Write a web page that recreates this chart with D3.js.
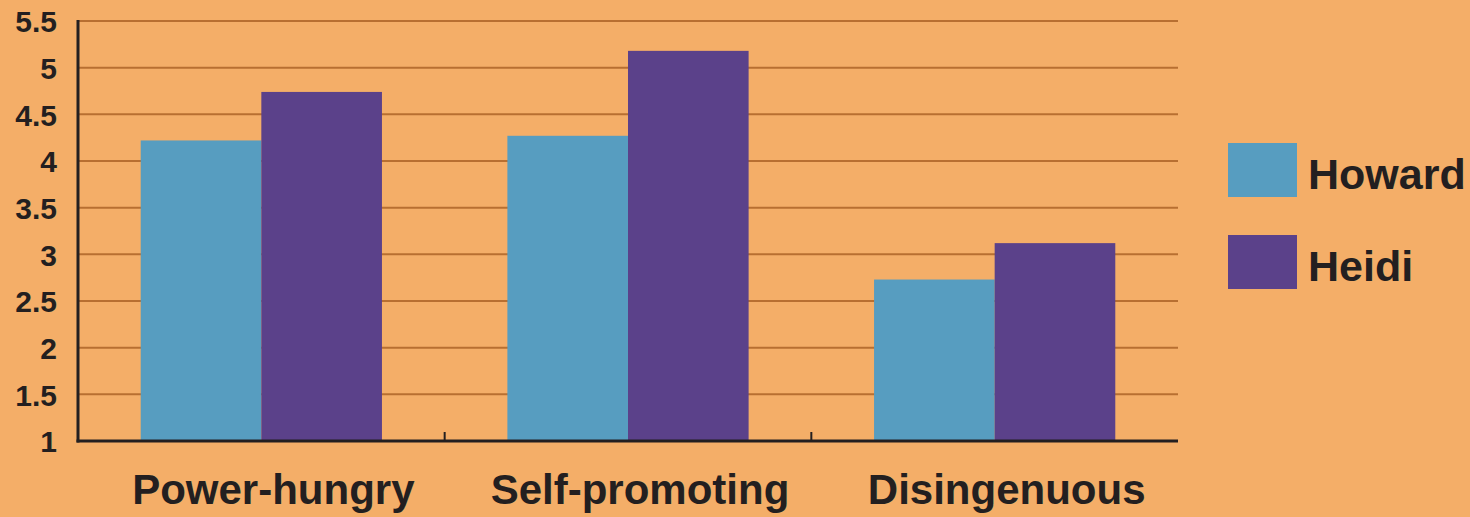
<!DOCTYPE html>
<html>
<head>
<meta charset="utf-8">
<script src="https://cdn.jsdelivr.net/npm/d3@7"></script>
<style>
  html, body { margin: 0; padding: 0; background: #F4AE68; }
  svg { display: block; }
  text { font-family: "Liberation Sans", Arial, sans-serif; font-weight: bold; fill: #231F20; }
</style>
</head>
<body>
<div id="chart"></div>
<script>
// data
var categories = ["Power-hungry", "Self-promoting", "Disingenuous"];
var series = ["Howard", "Heidi"];
var howard = [4.22, 4.27, 2.73];
var heidi = [4.74, 5.18, 3.12];
var yTicks = [1, 1.5, 2, 2.5, 3, 3.5, 4, 4.5, 5, 5.5];

var colors = {Howard: "#579DC0", Heidi: "#5B418A"};
var values = {Howard: howard, Heidi: heidi};

var W = 1470, H = 517;
// plot box (note: "top" is taken by window.top, so use p* names)
var pLeft = 78, pRight = 1178, pTop = 21, pBottom = 441;

var svg = d3.select("#chart").append("svg").attr("width", W).attr("height", H);
svg.append("rect").attr("width", W).attr("height", H).attr("fill", "#F4AE68");

var y = d3.scaleLinear().domain([1, 5.5]).range([pBottom, pTop]);
var x0 = d3.scaleBand().domain(categories).range([pLeft, pRight]);
var x1 = d3.scaleBand().domain(series).range([0, x0.bandwidth()]).paddingOuter(0.52);

// gridlines
svg.append("g").selectAll("line")
  .data(yTicks.filter(d => d > 1))
  .join("line")
  .attr("x1", pLeft).attr("x2", pRight)
  .attr("y1", d => y(d)).attr("y2", d => y(d))
  .attr("stroke", "#B86F31").attr("stroke-width", 2);

// y labels
var yAxis = svg.append("g").attr("transform", "translate(" + pLeft + ",0)")
  .call(d3.axisLeft(y).tickValues(yTicks).tickSize(0).tickPadding(21).tickFormat(d3.format("")));
yAxis.select(".domain").remove();
yAxis.selectAll("text").attr("font-size", 30).attr("dy", "0.36em")
  .attr("font-family", "'Liberation Sans', Arial, sans-serif").attr("font-weight", "bold").attr("fill", "#231F20");

// bars
var groups = svg.append("g").selectAll("g")
  .data(categories)
  .join("g")
  .attr("transform", d => "translate(" + x0(d) + ",0)");

groups.selectAll("rect")
  .data((c, i) => series.map(s => ({key: s, value: values[s][i]})))
  .join("rect")
  .attr("x", d => x1(d.key))
  .attr("width", x1.bandwidth())
  .attr("y", d => y(d.value))
  .attr("height", d => pBottom - y(d.value))
  .attr("fill", d => colors[d.key]);

// axis lines
svg.append("line").attr("x1", pLeft).attr("x2", pLeft).attr("y1", pTop - 1).attr("y2", pBottom + 1.5)
  .attr("stroke", "#231F20").attr("stroke-width", 3);
svg.append("line").attr("x1", pLeft - 1.5).attr("x2", pRight).attr("y1", pBottom).attr("y2", pBottom)
  .attr("stroke", "#231F20").attr("stroke-width", 3);

// small ticks between categories
svg.append("g").selectAll("line")
  .data(categories.slice(1))
  .join("line")
  .attr("x1", d => x0(d)).attr("x2", d => x0(d))
  .attr("y1", pBottom).attr("y2", pBottom - 9)
  .attr("stroke", "#231F20").attr("stroke-width", 2);

// category labels
svg.append("g").selectAll("text")
  .data(categories)
  .join("text")
  .attr("x", d => x0(d) + x0.bandwidth() / 2 + 12)
  .attr("y", 504)
  .attr("text-anchor", "middle")
  .attr("font-size", 42)
  .text(d => d);

// legend
var legend = svg.append("g").selectAll("g")
  .data(series)
  .join("g")
  .attr("transform", (d, i) => "translate(1228," + (143 + i * 92) + ")");
legend.append("rect").attr("width", 69).attr("height", 54).attr("fill", d => colors[d]);
legend.append("text").attr("x", 80).attr("y", 46).attr("font-size", 43).text(d => d);
</script>
</body>
</html>
